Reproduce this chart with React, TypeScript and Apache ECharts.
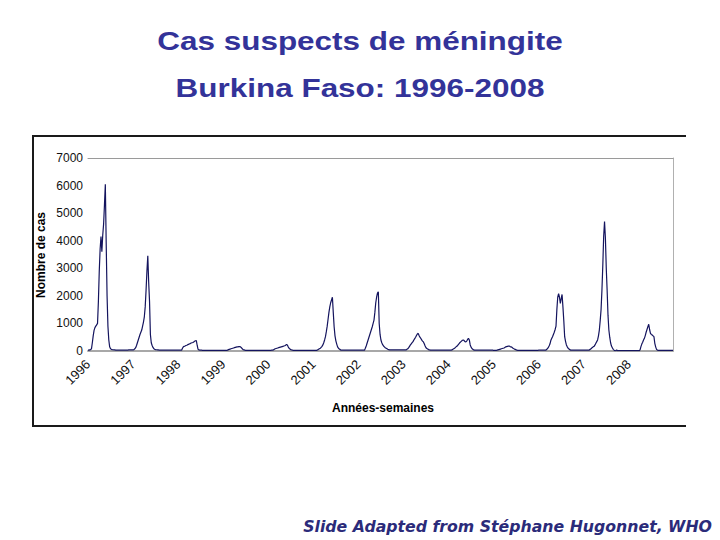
import React, { useEffect, useRef } from "react";
import * as echarts from "echarts";

const years = [1996, 1997, 1998, 1999, 2000, 2001, 2002, 2003, 2004, 2005, 2006, 2007, 2008];

// weekly suspected cases, 52 weeks per year
const y1996 = [30,30,40,50,80,300,550,750,850,900,950,1000,1800,2900,3700,4150,3600,4200,4600,5300,6050,3900,2000,900,400,150,80,60,50,45,40,40,35,35,30,30,30,35,35,30,30,30,30,30,35,35,35,40,40,40,40,40];
const y1997 = [40,50,80,120,200,300,400,500,600,680,760,900,1050,1240,1600,2200,2900,3450,2500,1800,600,300,200,130,80,60,50,45,40,40,35,35,30,30,30,30,30,30,30,30,30,30,30,30,30,30,30,30,30,30,30,30];
const y1998 = [30,30,30,30,30,100,150,170,180,200,210,230,240,260,270,290,300,310,330,350,370,380,200,60,40,30,30,30,25,25,25,25,25,25,25,25,25,25,25,25,25,25,25,25,25,25,25,25,25,25,25,25];
const y1999 = [20,20,20,20,20,30,50,60,70,80,90,100,110,120,130,140,150,150,160,160,150,120,80,50,40,30,20,20,20,20,20,20,20,20,20,20,20,20,20,20,20,20,20,20,20,20,20,20,20,20,20,20];
const y2000 = [20,20,20,25,30,35,40,60,80,90,100,110,120,130,140,150,160,170,180,190,210,240,220,150,100,70,50,40,30,25,25,25,25,25,25,25,25,25,25,25,25,25,25,25,25,25,25,25,25,25,25,25];
const y2001 = [25,25,25,25,25,40,60,80,100,130,170,220,300,400,520,700,900,1150,1400,1600,1750,1850,1950,1400,880,550,370,250,150,100,70,50,30,30,30,30,30,30,30,30,30,30,30,30,30,30,30,30,30,30,30,30];
const y2002 = [30,30,30,30,30,30,30,30,100,180,280,380,480,580,680,780,880,1000,1120,1400,1740,1950,2100,2150,1000,600,400,300,230,180,150,120,100,80,60,50,40,40,40,40,40,40,40,40,40,40,40,40,40,40,40,40];
const y2003 = [40,40,40,40,60,80,120,170,220,260,300,340,400,450,500,560,620,640,560,500,460,400,360,330,260,180,120,90,70,50,40,30,30,30,30,30,30,30,30,30,30,30,30,30,30,30,30,30,30,30,30,30];
const y2004 = [30,30,30,30,40,60,80,100,130,160,180,220,260,300,330,360,390,400,380,340,330,360,420,460,400,220,140,90,60,40,30,30,30,30,30,30,30,30,30,30,30,30,30,30,30,30,30,30,30,30,30,30];
const y2005 = [20,20,20,20,30,40,50,60,70,80,90,100,110,130,150,160,170,175,180,160,150,140,110,90,70,60,40,30,20,20,20,20,20,20,20,20,20,20,20,20,20,20,20,20,20,20,20,20,20,20,20,20];
const y2006 = [30,30,30,30,30,30,30,30,30,50,80,120,180,250,380,450,520,600,680,780,900,1500,1950,2080,1950,1730,1900,2050,1600,1100,520,350,220,150,100,70,50,30,30,30,30,30,30,30,30,30,30,30,30,30,30,30];
const y2007 = [30,30,30,30,30,30,30,50,70,100,130,150,170,220,280,340,400,550,760,1100,1500,2200,3100,4150,4700,4100,3000,2200,1300,760,500,300,180,120,60,30,15,10,40,10,10,10,10,10,10,10,10,10,10,10,10,10];
const y2008 = [10,10,10,10,10,10,10,10,10,10,10,10,10,40,160,250,320,400,460,560,680,780,880,970,780,640,600,580,550,520,280,150,60,30,20,20,20,20,20,20,20,20,20,20,20,20,20,20,20,20,20,20];

const yearSeries = [y1996, y1997, y1998, y1999, y2000, y2001, y2002, y2003, y2004, y2005, y2006, y2007, y2008];
const yTicks = [0, 1000, 2000, 3000, 4000, 5000, 6000, 7000];

const TITLE_1 = "Cas suspects de méningite";
const TITLE_2 = "Burkina Faso: 1996-2008";
const Y_NAME = "Nombre de cas";
const X_NAME = "Années-semaines";
const FOOTER = "Slide Adapted from Stéphane Hugonnet, WHO";

export default function App() {
  const ref = useRef<HTMLDivElement>(null);

  useEffect(() => {
    if (!ref.current) return;
    const chart = echarts.init(ref.current, null, { renderer: "svg" });

    const categories: string[] = [];
    const values: number[] = [];
    yearSeries.forEach((arr, yi) => {
      arr.forEach((v, wi) => {
        categories.push(`${years[yi]}-S${wi + 1}`);
        values.push(v);
      });
    });

    const font = '"Liberation Sans", Arial, sans-serif';
    const titleColor = "#333399";
    const centered = { align: "center", verticalAlign: "middle", textAlign: "center", textVerticalAlign: "middle" };

    chart.setOption({
      animation: false,
      backgroundColor: "#ffffff",
      grid: { left: 88, right: 47, top: 158, bottom: 189, containLabel: false },
      xAxis: [
        {
          type: "category",
          data: categories,
          boundaryGap: false,
          axisLine: { show: true, onZero: false, lineStyle: { color: "#a8a8a8", width: 2 } },
          axisTick: { show: false },
          splitLine: { show: false },
          axisLabel: {
            interval: (index: number) => index % 52 === 0,
            formatter: (val: string) => val.split("-")[0],
            rotate: 45,
            margin: 11,
            fontSize: 13,
            fontFamily: font,
            color: "#111",
          },
        },
        {
          type: "value",
          position: "top",
          min: 0,
          max: 1,
          axisLine: { show: true, onZero: false, lineStyle: { color: "#9a9a9a", width: 1 } },
          axisTick: { show: false },
          axisLabel: { show: false },
          splitLine: { show: false },
        },
      ],
      yAxis: [
        {
          type: "value",
          min: yTicks[0],
          max: yTicks[yTicks.length - 1],
          interval: 1000,
          axisLine: { show: false },
          axisTick: { show: false },
          splitLine: { show: false },
          axisLabel: {
            fontSize: 12,
            fontFamily: font,
            color: "#111",
            margin: 5,
            formatter: (v: number) => String(v),
          },
        },
        {
          type: "value",
          position: "right",
          min: 0,
          max: 7000,
          axisLine: { show: true, onZero: false, lineStyle: { color: "#b0b0b0", width: 1 } },
          axisTick: { show: false },
          axisLabel: { show: false },
          splitLine: { show: false },
        },
      ],
      series: [
        {
          type: "line",
          xAxisIndex: 0,
          yAxisIndex: 0,
          data: values,
          showSymbol: false,
          symbol: "none",
          lineStyle: { color: "#14145e", width: 1.2 },
        },
      ],
      graphic: [
        {
          type: "polyline",
          shape: { points: [[686, 136], [33, 136], [33, 426], [686, 426]] },
          style: { stroke: "#1a1a1a", lineWidth: 2, fill: "none" },
          silent: true,
        },
        {
          type: "text",
          x: 360,
          y: 41,
          scaleX: 1.21,
          style: { text: TITLE_1, font: `bold 26px ${font}`, fill: titleColor, ...centered },
        },
        {
          type: "text",
          x: 360,
          y: 87.5,
          scaleX: 1.21,
          style: { text: TITLE_2, font: `bold 26px ${font}`, fill: titleColor, ...centered },
        },
        {
          type: "text",
          x: 41,
          y: 255,
          rotation: Math.PI / 2,
          style: { text: Y_NAME, font: `bold 12px ${font}`, fill: "#000", ...centered },
        },
        {
          type: "text",
          x: 383,
          y: 408,
          style: { text: X_NAME, font: `bold 12px ${font}`, fill: "#000", ...centered },
        },
        {
          type: "text",
          x: 712,
          y: 527,
          scaleX: 1.05,
          style: {
            text: FOOTER,
            font: `italic bold 15px "DejaVu Sans", Verdana, sans-serif`,
            fill: "#2b2b7a",
            align: "right",
            verticalAlign: "middle",
            textAlign: "right",
            textVerticalAlign: "middle",
          },
        },
      ],
    });

    return () => chart.dispose();
  }, []);

  return (
    <div
      ref={ref}
      style={{ position: "fixed", left: 0, top: 0, width: 720, height: 540, background: "#fff" }}
    />
  );
}
